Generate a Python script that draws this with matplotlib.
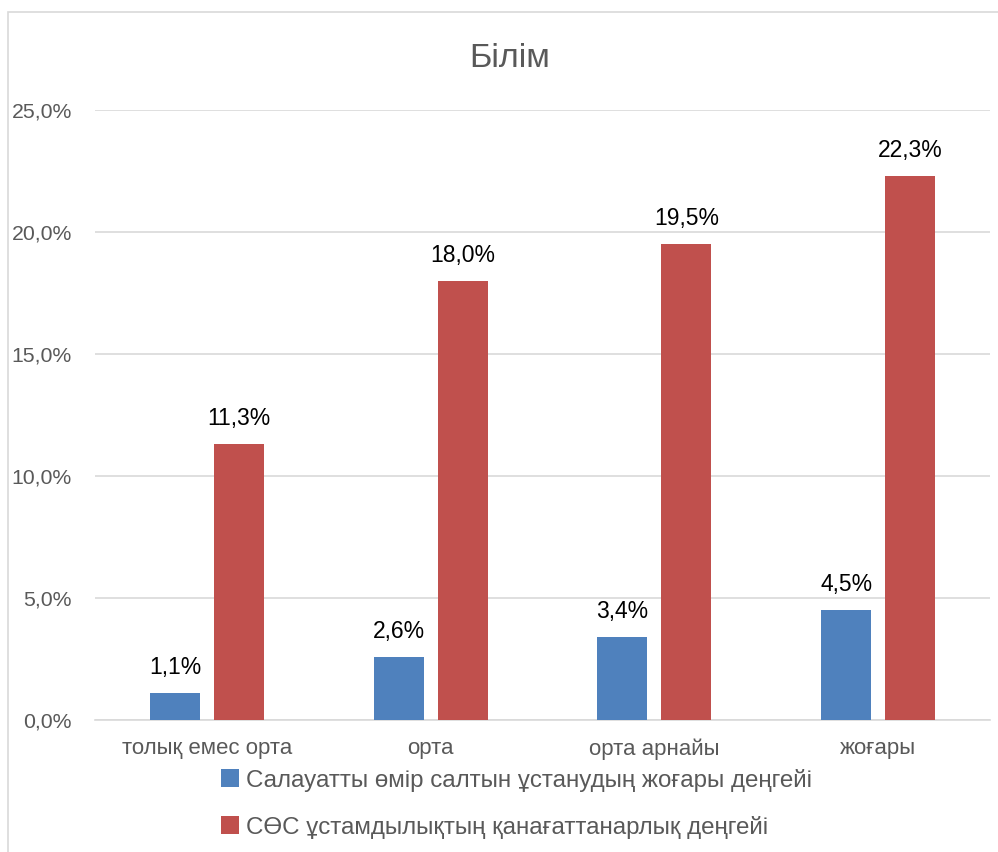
import numpy as np
import matplotlib.pyplot as plt
from matplotlib.patches import Rectangle

plt.rcParams['font.family'] = ['Liberation Sans', 'DejaVu Sans']

categories = ['толық емес орта', 'орта', 'орта арнайы', 'жоғары']
healthy_high = [1.1, 2.6, 3.4, 4.5]
healthy_ok = [11.3, 18.0, 19.5, 22.3]
series_names = ['Салауатты өмір салтын ұстанудың жоғары деңгейі',
                'СӨС ұстамдылықтың қанағаттанарлық деңгейі']
y_ticks = [0, 5, 10, 15, 20, 25]

blue = '#4f81bd'
red = '#c0504d'
gray = '#595959'


def pct(v):
    return f'{v:.1f}%'.replace('.', ',')


fig = plt.figure(figsize=(9.98, 8.52), dpi=100)
ax = fig.add_axes([0.0952, 0.1549, 0.8968, 0.716])

x = np.arange(len(categories))
w = 0.223
off = 0.143
b1 = ax.bar(x - off, healthy_high, w, color=blue, label=series_names[0], zorder=3)
b2 = ax.bar(x + off, healthy_ok, w, color=red, label=series_names[1], zorder=3)

# подписи значений над столбиками
for bars, vals in ((b1, healthy_high), (b2, healthy_ok)):
    for r, v in zip(bars, vals):
        ax.annotate(pct(v), (r.get_x() + r.get_width() / 2, v), xytext=(0, 10),
                    textcoords='offset points', ha='center', va='bottom',
                    fontsize=16.5, color='black')

ax.set_xlim(-0.5, 3.5)
ax.set_ylim(0, 25)
ax.set_yticks(y_ticks)
ax.set_yticklabels([pct(t) for t in y_ticks], fontsize=15.3, color=gray)
ax.set_xticks(x)
ax.set_xticklabels(categories, fontsize=16, color=gray)
ax.tick_params(length=0)
ax.tick_params(axis='y', pad=16.5)
ax.tick_params(axis='x', pad=13)
ax.grid(axis='y', color='#d9d9d9', linewidth=1.2, zorder=0)
for s in ['top', 'right', 'left']:
    ax.spines[s].set_visible(False)
ax.spines['bottom'].set_color('#d9d9d9')
ax.spines['bottom'].set_linewidth(1.2)

fig.text(0.511, 0.931, 'Білім', ha='center', va='center', fontsize=24.7, color=gray)

fig.legend(handles=[b1, b2], loc='upper left', bbox_to_anchor=(0.2, 0.1235),
           frameon=False, fontsize=17.4, handlelength=0.75, handleheight=0.75,
           handletextpad=0.25, labelspacing=1.0, labelcolor=gray)

# рамка диаграммы (обрезана справа и снизу)
fig.patches.append(Rectangle((8 / 998, -0.05), 1.1, 1 - 12 / 852 + 0.05,
                             transform=fig.transFigure, fill=False,
                             edgecolor='#d9d9d9', linewidth=1.2))

fig.savefig('out.png', dpi=100, facecolor='white')
